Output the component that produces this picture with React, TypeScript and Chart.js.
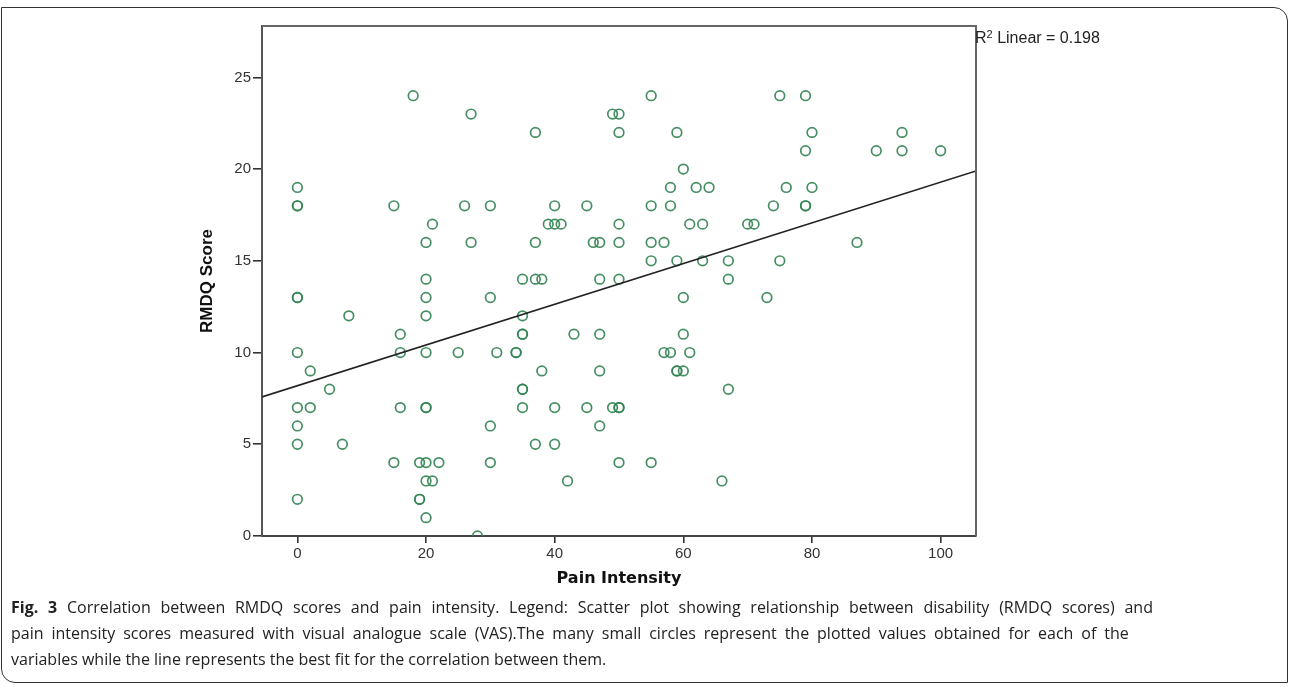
import React, { useEffect, useRef } from "react";
import { Chart, registerables } from "chart.js";

Chart.register(...registerables);

// Pain intensity (VAS) for each respondent
const painIntensity: number[] = [
  0, 0, 0, 0, 0, 0, 0, 0, 0, 0,
  2, 2, 5, 7, 8, 15, 15, 16, 16, 16, 18, 19, 19, 19,
  20, 20, 20, 20, 20, 20, 20, 20, 20, 20,
  21, 21, 22, 25, 26, 27, 27, 28, 30, 30, 30, 30, 31, 34, 34,
  35, 35, 35, 35, 35, 35, 35, 37, 37, 37, 37, 38, 38, 39,
  40, 40, 40, 40, 41, 42, 43, 45, 45, 46, 47, 47, 47, 47, 47,
  49, 49, 50, 50, 50, 50, 50, 50, 50, 50,
  55, 55, 55, 55, 55, 57, 57, 58, 58, 58, 59, 59, 59, 59,
  60, 60, 60, 60, 61, 61, 62, 63, 63, 64, 66, 67, 67, 67,
  70, 71, 73, 74, 75, 75, 76, 79, 79, 79, 79, 80, 80, 87, 90, 94, 94, 100,
];

// RMDQ disability score for each respondent
const rmdqScore: number[] = [
  19, 18, 18, 13, 13, 10, 7, 6, 5, 2,
  9, 7, 8, 5, 12, 18, 4, 11, 10, 7, 24, 4, 2, 2,
  16, 14, 13, 12, 10, 7, 7, 4, 3, 1,
  17, 3, 4, 10, 18, 23, 16, 0, 18, 13, 6, 4, 10, 10, 10,
  14, 12, 11, 11, 8, 8, 7, 22, 16, 14, 5, 14, 9, 17,
  18, 17, 7, 5, 17, 3, 11, 18, 7, 16, 16, 14, 11, 9, 6,
  23, 7, 23, 22, 17, 16, 14, 7, 7, 4,
  24, 18, 16, 15, 4, 16, 10, 19, 18, 10, 22, 15, 9, 9,
  20, 13, 11, 9, 17, 10, 19, 17, 15, 19, 3, 15, 14, 8,
  17, 17, 13, 18, 24, 15, 19, 24, 21, 18, 18, 22, 19, 16, 21, 22, 21, 21,
];

// Linear fit line, read at the frame edges
const fitX: number[] = [-5.5, 105.5];
const fitY: number[] = [7.58, 19.9];

const xTickValues: number[] = [0, 20, 40, 60, 80, 100];
const yTickValues: number[] = [0, 5, 10, 15, 20, 25];
const xRange: number[] = [-5.5, 105.5];
const yRange: number[] = [0, 27.8];

const xTitle = "Pain Intensity";
const yTitle = "RMDQ Score";
const r2Value = "0.198";

export default function App() {
  const canvasRef = useRef<HTMLCanvasElement | null>(null);

  useEffect(() => {
    const canvas = canvasRef.current;
    if (!canvas) return;

    const framePlugin = {
      id: "frameLines",
      afterDatasetsDraw(chart: any) {
        const { ctx, chartArea } = chart;
        const { left, top, right, bottom } = chartArea;
        ctx.save();
        ctx.strokeStyle = "#666";
        ctx.lineWidth = 2;
        ctx.beginPath();
        ctx.moveTo(left, top);
        ctx.lineTo(right, top);
        ctx.lineTo(right, bottom);
        ctx.stroke();
        ctx.restore();
      },
    };

    const chart = new Chart(canvas, {
      type: "scatter",
      data: {
        datasets: [
          {
            type: "line",
            label: "Linear fit",
            data: fitX.map((x, i) => ({ x, y: fitY[i] })),
            borderColor: "#222",
            borderWidth: 1.6,
            pointRadius: 0,
            fill: false,
            order: 0,
          } as any,
          {
            type: "scatter",
            label: "Respondents",
            data: painIntensity.map((x, i) => ({ x, y: rmdqScore[i] })),
            pointStyle: "circle",
            pointRadius: 4.8,
            pointHoverRadius: 4.8,
            pointBorderWidth: 1.7,
            borderColor: "rgba(52,132,84,0.92)",
            backgroundColor: "rgba(0,0,0,0)",
            order: 1,
          } as any,
        ],
      },
      options: {
        animation: false,
        responsive: false,
        devicePixelRatio: 1,
        layout: { padding: { left: 0, top: 26, right: 316, bottom: 0 } },
        plugins: {
          legend: { display: false },
          tooltip: { enabled: false },
        },
        scales: {
          x: {
            type: "linear",
            min: xRange[0],
            max: xRange[1],
            afterBuildTicks: (scale: any) => {
              scale.ticks = xTickValues.map((v) => ({ value: v }));
            },
            afterFit: (scale: any) => {
              scale.height = 64;
            },
            grid: {
              drawOnChartArea: false,
              drawTicks: true,
              tickLength: 7,
              color: "#333",
              lineWidth: 1.6,
            },
            border: { display: true, color: "#444", width: 2 },
            ticks: {
              color: "#333",
              padding: 2,
              maxRotation: 0,
              font: { family: "'Liberation Sans', Arial, sans-serif", size: 15 },
            },
            title: {
              display: true,
              text: xTitle,
              color: "#111",
              padding: { top: 0, bottom: 12 },
              font: { family: "'DejaVu Sans', sans-serif", size: 16, weight: "bold" },
            },
          },
          y: {
            type: "linear",
            min: yRange[0],
            max: yRange[1],
            afterBuildTicks: (scale: any) => {
              scale.ticks = yTickValues.map((v) => ({ value: v }));
            },
            afterFit: (scale: any) => {
              scale.width = 262;
            },
            grid: {
              drawOnChartArea: false,
              drawTicks: true,
              tickLength: 9,
              color: "#333",
              lineWidth: 1.6,
            },
            border: { display: true, color: "#555", width: 2 },
            ticks: {
              color: "#333",
              padding: 2,
              font: { family: "'Liberation Sans', Arial, sans-serif", size: 15 },
            },
            title: {
              display: true,
              text: yTitle,
              color: "#111",
              padding: { top: 197, bottom: 0 },
              font: { family: "'Liberation Sans', Arial, sans-serif", size: 17, weight: "bold" },
            },
          },
        },
      },
      plugins: [framePlugin],
    } as any);

    return () => chart.destroy();
  }, []);

  return (
    <div
      style={{
        position: "fixed",
        left: 0,
        top: 0,
        width: 1292,
        height: 687,
        background: "#fff",
        overflow: "hidden",
      }}
    >
      <div
        style={{
          position: "absolute",
          left: 1,
          top: 7,
          width: 1287,
          height: 676,
          border: "1.5px solid #333",
          borderRadius: "0 14px 0 14px",
          boxSizing: "border-box",
        }}
      />
      <canvas
        ref={canvasRef}
        width={1292}
        height={600}
        style={{ position: "absolute", left: 0, top: 0, width: 1292, height: 600 }}
      />
      <div
        style={{
          position: "absolute",
          left: 975,
          top: 29,
          fontFamily: "'Liberation Sans', Arial, sans-serif",
          fontSize: 16,
          lineHeight: "18px",
          color: "#222",
          whiteSpace: "nowrap",
        }}
      >
        R<sup style={{ fontSize: 11, verticalAlign: "5px", lineHeight: 0 }}>2</sup> Linear = {r2Value}
      </div>
      <div
        style={{
          position: "absolute",
          left: 11,
          top: 594,
          width: 1270,
          fontFamily: "'Open Sans', 'Noto Sans', sans-serif",
          fontSize: 16,
          lineHeight: "26px",
          color: "#222",
        }}
      >
        <div style={{ whiteSpace: "nowrap", wordSpacing: "5.6px" }}>
          <b>Fig. 3</b> Correlation between RMDQ scores and pain intensity. Legend: Scatter plot showing relationship between disability (RMDQ scores) and
        </div>
        <div style={{ whiteSpace: "nowrap", wordSpacing: "3.8px" }}>
          pain intensity scores measured with visual analogue scale (VAS).The many small circles represent the plotted values obtained for each of the
        </div>
        <div style={{ whiteSpace: "nowrap" }}>
          variables while the line represents the best fit for the correlation between them.
        </div>
      </div>
    </div>
  );
}
